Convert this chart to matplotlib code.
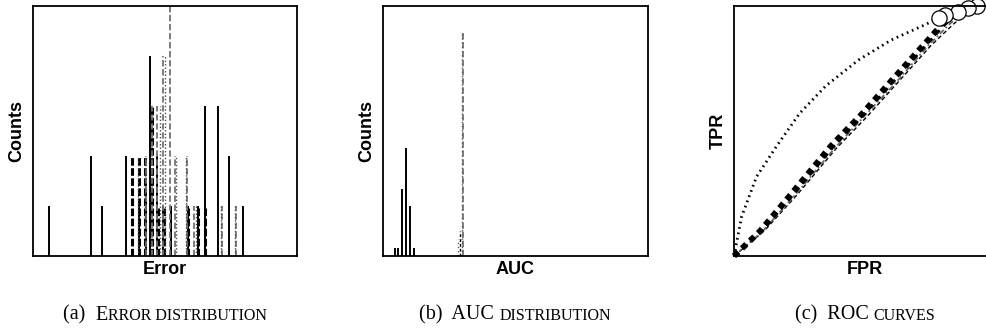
import matplotlib
matplotlib.use("Agg")
import matplotlib.pyplot as plt
from matplotlib.offsetbox import TextArea, HPacker, AnchoredOffsetbox

# ---------------- data ----------------
# (a) error distribution: spike histograms of several methods
err_solid_x = [0.061, 0.220, 0.261, 0.352, 0.402, 0.428, 0.443, 0.470, 0.492, 0.523, 0.587, 0.625, 0.652, 0.701, 0.742, 0.795]
err_solid_n = [1, 2, 1, 2, 1, 1, 4, 2, 1, 1, 1, 1, 3, 3, 2, 1]
err_dash_x = [0.375, 0.402, 0.424, 0.449, 0.473, 0.496, 0.587, 0.625, 0.652]
err_dash_n = [2, 2, 2, 3, 1, 1, 1, 1, 1]
err_gray_x = [0.428, 0.451, 0.470, 0.492, 0.519, 0.538, 0.583, 0.610, 0.716, 0.769]
err_gray_n = [2, 3, 3, 4, 5, 2, 2, 1, 1, 1]
err_dot_x = [0.398, 0.424, 0.481, 0.500, 0.542, 0.580, 0.617, 0.712, 0.765]
err_dot_n = [2, 2, 3, 4, 2, 2, 1, 1, 1]

# (b) AUC distribution
auc_solid_x = [0.427, 0.435, 0.444, 0.453, 0.461, 0.470]
auc_solid_n = [1, 1, 8, 13, 6, 1]
auc_gray_x = [0.582]
auc_gray_n = [27]
auc_dot_x = [0.579, 0.570]
auc_dot_n = [27, 2]
auc_dash_x = [0.574]
auc_dash_n = [3]

# (c) ROC curves
roc_dot_fpr = [0.0, 0.029, 0.086, 0.161, 0.25, 0.35, 0.475, 0.60, 0.727, 0.782]
roc_dot_tpr = [0.0, 0.157, 0.317, 0.437, 0.57, 0.68, 0.784, 0.864, 0.924, 0.952]
roc1_fpr = [0.0, 0.10, 0.22, 0.37, 0.49, 0.60, 0.72, 0.78, 0.805]
roc1_tpr = [0.0, 0.10, 0.25, 0.44, 0.57, 0.70, 0.84, 0.91, 0.964]
roc2_fpr = [0.0, 0.105, 0.228, 0.378, 0.495, 0.607, 0.73, 0.80, 0.855]
roc2_tpr = [0.0, 0.10, 0.248, 0.435, 0.565, 0.695, 0.84, 0.92, 0.976]
roc3_fpr = [0.0, 0.11, 0.235, 0.385, 0.50, 0.615, 0.74, 0.82, 0.893]
roc3_tpr = [0.0, 0.10, 0.246, 0.432, 0.562, 0.69, 0.84, 0.925, 0.992]
roc4_fpr = [0.0, 0.115, 0.24, 0.39, 0.51, 0.62, 0.75, 0.84, 0.927]
roc4_tpr = [0.0, 0.10, 0.244, 0.43, 0.56, 0.688, 0.84, 0.93, 1.0]

# ---------------- figure ----------------
W, H = 987, 331
fig = plt.figure(figsize=(W / 100, H / 100), dpi=100)

def px_axes(left, right, top, bottom):
    return fig.add_axes([left / W, 1 - bottom / H, (right - left) / W, (bottom - top) / H])

axa = px_axes(33, 297, 6, 256)
axb = px_axes(383, 648, 6, 256)
axc = px_axes(734, 996, 6, 256)

lab = dict(family=["Liberation Sans", "DejaVu Sans"], fontweight="bold", fontsize=13)

for ax, xl, yl in [(axa, "Error", "Counts"), (axb, "AUC", "Counts"), (axc, "FPR", "TPR")]:
    ax.set_xticks([])
    ax.set_yticks([])
    for s in ax.spines.values():
        s.set_linewidth(1.3)
    ax.text(0.5, -0.052, xl, transform=ax.transAxes, ha="center", va="center", **lab)
    ax.text(-0.062, 0.5, yl, transform=ax.transAxes, ha="center", va="center", rotation=90, **lab)

# (a)
axa.vlines(err_solid_x, 0, err_solid_n, colors="black", linewidth=1.4)
axa.vlines(err_dash_x, 0, err_dash_n, colors="black", linewidth=2.2, linestyles=[(0, (2.5, 0.8))])
axa.vlines(err_gray_x, 0, err_gray_n, colors="0.45", linewidth=1.3, linestyles=[(0, (3.5, 1.5))])
axa.vlines(err_dot_x, 0, err_dot_n, colors="0.3", linewidth=1.0, linestyles=[(0, (1, 1.5))])
axa.set_xlim(0, 1)
axa.set_ylim(0, 5)

# (b)
axb.vlines(auc_solid_x, 0, auc_solid_n, colors="black", linewidth=1.4)
axb.vlines(auc_gray_x, 0, auc_gray_n, colors="0.45", linewidth=1.3, linestyles=[(0, (3.5, 1.5))])
axb.vlines(auc_dot_x, 0, auc_dot_n, colors="0.35", linewidth=1.0, linestyles=[(0, (1, 2))])
axb.vlines(auc_dash_x, 0, auc_dash_n, colors="black", linewidth=1.0, linestyles=[(0, (2, 1.5))])
axb.set_xlim(0.4, 1.0)
axb.set_ylim(0, 30)

# (c)
mk = dict(marker="o", markevery=[-1], markersize=11, markerfacecolor="white",
          markeredgecolor="black", markeredgewidth=0.9, clip_on=False)
axc.plot(roc4_fpr, roc4_tpr, color="black", linewidth=1.0, linestyle=(0, (3, 2)), **mk)
axc.plot(roc3_fpr, roc3_tpr, color="0.4", linewidth=1.3, linestyle=(0, (3, 1.5, 1, 1.5)), **mk)
axc.plot(roc2_fpr, roc2_tpr, color="black", linewidth=2.0, linestyle=(0, (2, 2)), **mk)
axc.plot(roc1_fpr, roc1_tpr, color="black", linewidth=4.3, linestyle=(0, (1.0, 0.85)), **mk)
axc.plot(roc_dot_fpr, roc_dot_tpr, color="black", linewidth=2.0, linestyle=(0, (0.6, 1.4)), **mk)
axc.set_xlim(0, 1)
axc.set_ylim(0, 1)

# captions with small caps
def caption(parts, xc, yc):
    kids = [TextArea(t, textprops=dict(family=["Liberation Serif", "DejaVu Serif"], size=s, color="black"))
            for t, s in parts]
    box = HPacker(children=kids, align="baseline", pad=0, sep=0)
    anc = AnchoredOffsetbox(loc="center", child=box, pad=0, borderpad=0, frameon=False,
                            bbox_to_anchor=(xc / W, 1 - yc / H), bbox_transform=fig.transFigure)
    fig.add_artist(anc)

big, small = 14.5, 11.5
caption([("(a)  ", big), ("E", big), ("RROR DISTRIBUTION", small)], 165, 315)
caption([("(b)  AUC ", big), ("DISTRIBUTION", small)], 515, 315)
caption([("(c)  ROC ", big), ("CURVES", small)], 865, 315)

fig.savefig("out.png", dpi=100)
